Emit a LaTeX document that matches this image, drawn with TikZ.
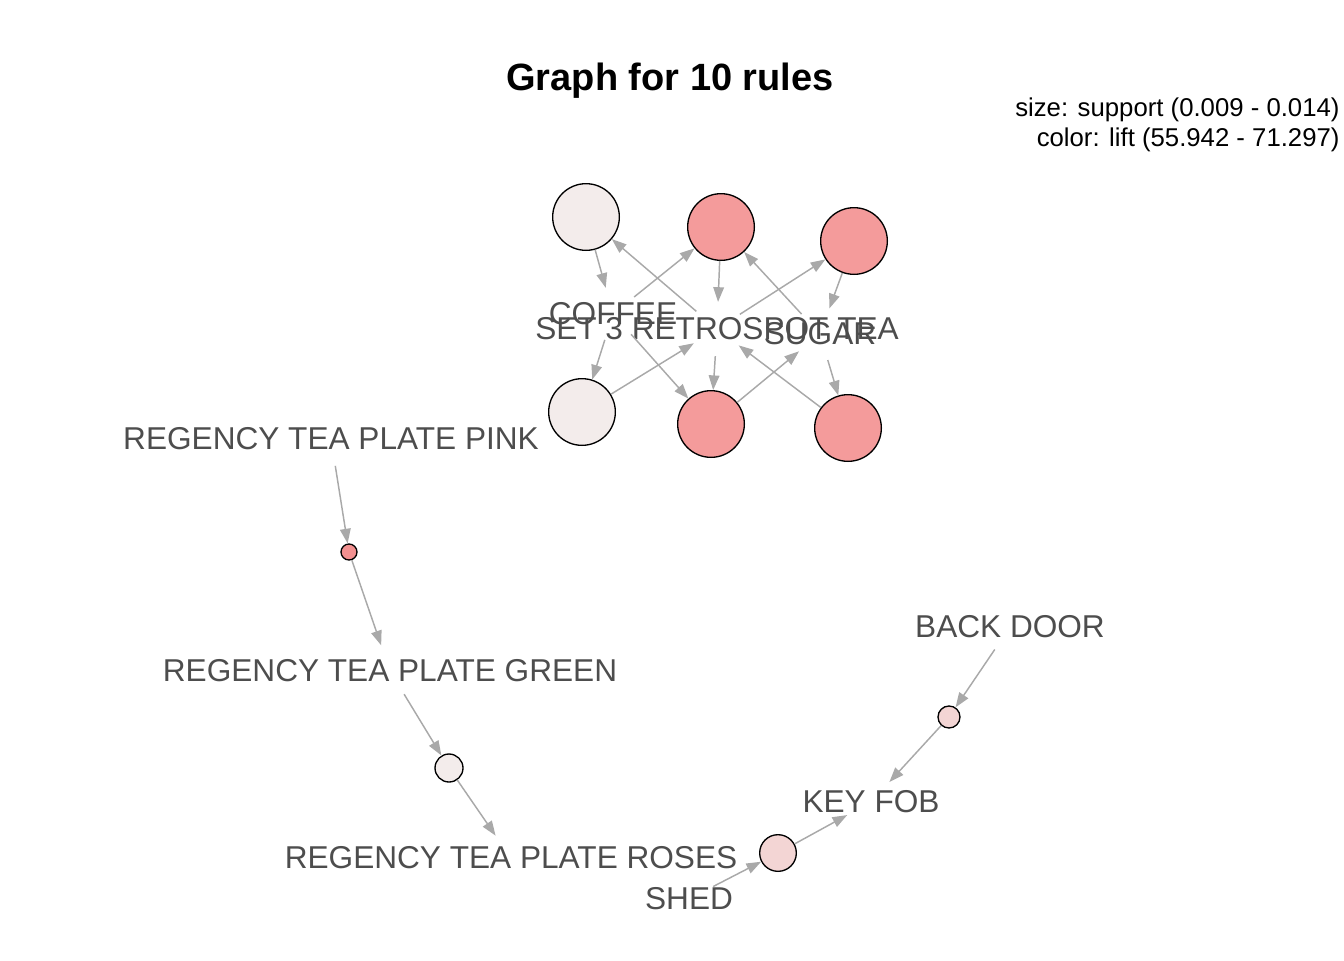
\documentclass[tikz,border=0pt]{standalone}
\usepackage{fontspec}
\setmainfont{Liberation Sans}
\usetikzlibrary{arrows.meta}

\definecolor{rulelight}{HTML}{F3ECEB}
\definecolor{rulepink}{HTML}{F49B9B}
\definecolor{rulemid}{HTML}{F3D5D4}
\definecolor{rulehot}{HTML}{F29090}
\definecolor{itemtext}{HTML}{4D4D4D}
\definecolor{linkgray}{HTML}{A9A9A9}

\tikzset{every picture/.style={line width=0.75pt}}
\tikzset{
  rulenode/.style={circle, draw=black, line width=1pt, inner sep=0pt},
  itemnode/.style={circle, inner sep=0pt, minimum size=40pt,
    label={[text=itemtext, font=\fontsize{23.7}{26}\selectfont, inner sep=0pt]center:#1}},
  link/.style={draw=linkgray, line width=1.1pt, -{Triangle[length=11pt,width=8pt]}},
}

\begin{document}
\begin{tikzpicture}[x=0.75pt,y=0.75pt,yscale=-1,xscale=1]
	\path[use as bounding box] (0,0) rectangle (1344,960);

	% Title and legend
	\draw (670,81) node [font=\fontsize{28.5}{32}\selectfont\bfseries] (title) {Graph for 10 rules};
	\draw (1340,110) node [anchor=east, inner sep=0pt, font=\fontsize{19.3}{22}\selectfont] (legsize) {size: support (0.009 - 0.014)};
	\draw (1340,140) node [anchor=east, inner sep=0pt, font=\fontsize{19.3}{22}\selectfont] (legcolor) {color: lift (55.942 - 71.297)};

	% Rules (circles)
	\node [rulenode, fill=rulelight, minimum size=50pt] (r1) at (586,217) {};
	\node [rulenode, fill=rulepink, minimum size=50pt] (r2) at (721,227) {};
	\node [rulenode, fill=rulepink, minimum size=50pt] (r3) at (854,241) {};
	\node [rulenode, fill=rulelight, minimum size=50pt] (r4) at (582,412) {};
	\node [rulenode, fill=rulepink, minimum size=50pt] (r5) at (711,424) {};
	\node [rulenode, fill=rulepink, minimum size=50pt] (r6) at (848,428) {};
	\node [rulenode, fill=rulehot, minimum size=12pt] (r7) at (349,552) {};
	\node [rulenode, fill=rulelight, minimum size=21pt] (r8) at (449,768) {};
	\node [rulenode, fill=rulemid, minimum size=27.5pt] (r9) at (778,853) {};
	\node [rulenode, fill=rulemid, minimum size=16.5pt] (r10) at (949,717) {};

	% Items (labels)
	\node [itemnode=COFFEE] (coffee) at (613,314) {};
	\node [itemnode=SET 3 RETROSPOT TEA] (tea) at (717,329) {};
	\node [itemnode=SUGAR] (sugar) at (820,334) {};
	\node [itemnode=REGENCY TEA PLATE PINK] (pink) at (331,439) {};
	\node [itemnode=REGENCY TEA PLATE GREEN] (green) at (390,671) {};
	\node [itemnode=REGENCY TEA PLATE ROSES] (roses) at (511,858) {};
	\node [itemnode=SHED] (shed) at (689,899) {};
	\node [itemnode=KEY FOB] (keyfob) at (871,802) {};
	\node [itemnode=BACK DOOR] (backdoor) at (1010,627) {};

	% Links
	\draw [link] (tea) -- (r1);
	\draw [link] (r1) -- (coffee);
	\draw [link] (coffee) -- (r2);
	\draw [link] (sugar) -- (r2);
	\draw [link] (r2) -- (tea);
	\draw [link] (tea) -- (r3);
	\draw [link] (r3) -- (sugar);
	\draw [link] (coffee) -- (r4);
	\draw [link] (r4) -- (tea);
	\draw [link] (coffee) -- (r5);
	\draw [link] (tea) -- (r5);
	\draw [link] (r5) -- (sugar);
	\draw [link] (sugar) -- (r6);
	\draw [link] (r6) -- (tea);
	\draw [link] (pink) -- (r7);
	\draw [link] (r7) -- (green);
	\draw [link] (green) -- (r8);
	\draw [link] (r8) -- (roses);
	\draw [link] (shed) -- (r9);
	\draw [link] (r9) -- (keyfob);
	\draw [link] (backdoor) -- (r10);
	\draw [link] (r10) -- (keyfob);

\end{tikzpicture}
\end{document}
